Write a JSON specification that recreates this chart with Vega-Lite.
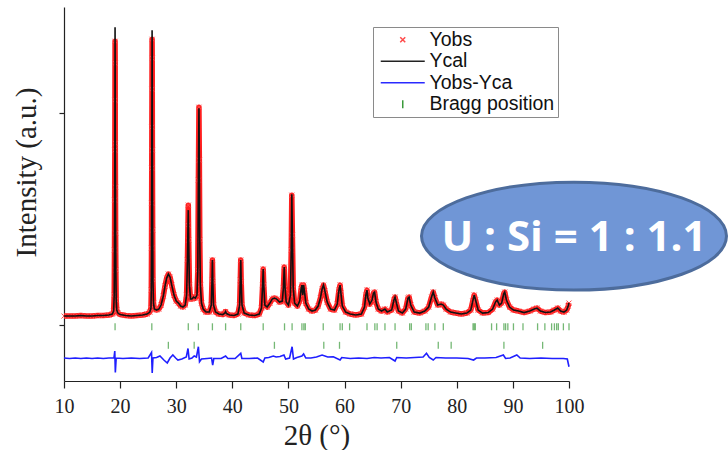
{
  "$schema": "https://vega.github.io/schema/vega-lite/v6.json",
  "width": 505,
  "height": 374,
  "autosize": {"type": "none"},
  "padding": {"left": 64, "top": 7, "right": 159, "bottom": 69},
  "background": "white",
  "config": {
    "view": {"stroke": null},
    "axis": {"grid": false, "domainColor": "#222", "tickColor": "#222", "domainWidth": 1.2, "tickWidth": 1.2},
    "legend": {
      "orient": "none", "legendX": 309, "legendY": 20,
      "strokeColor": "#8a8a8a", "strokeWidth": 1, "fillColor": "white", "padding": 3,
      "labelFont": "Liberation Sans", "labelFontSize": 19.5, "labelColor": "#111",
      "symbolSize": 100, "symbolStrokeWidth": 1.5, "symbolOffset": 17, "labelOffset": 17, "rowPadding": 0.5
    }
  },
  "datasets": {
    "pattern": [
      {"t":10.0,"cal":450,"obs":450},{"t":11.0,"cal":450,"obs":450},{"t":12.0,"cal":450,"obs":450},{"t":13.0,"cal":475,"obs":475},
      {"t":14.0,"cal":450,"obs":450},{"t":15.0,"cal":450,"obs":450},{"t":16.0,"cal":475,"obs":475},{"t":17.0,"cal":475,"obs":475},
      {"t":18.0,"cal":500,"obs":500},{"t":18.6,"cal":550,"obs":550},{"t":18.85,"cal":700,"obs":700},{"t":18.95,"cal":1500,"obs":1500},
      {"t":19.0,"cal":3750,"obs":3750},{"t":19.03,"cal":6250,"obs":6250},{"t":19.06,"cal":8750,"obs":8750},{"t":19.08,"cal":11250,"obs":11250},
      {"t":19.1,"cal":14900,"obs":14200},{"t":19.12,"cal":13100,"obs":13100},{"t":19.14,"cal":9100,"obs":9100},{"t":19.17,"cal":6900,"obs":6900},
      {"t":19.2,"cal":4600,"obs":4600},{"t":19.24,"cal":2750,"obs":2750},{"t":19.3,"cal":1250,"obs":1250},{"t":19.4,"cal":750,"obs":750},
      {"t":19.6,"cal":600,"obs":600},{"t":20.0,"cal":525,"obs":525},{"t":21.0,"cal":475,"obs":475},{"t":22.0,"cal":450,"obs":450},
      {"t":23.0,"cal":475,"obs":475},{"t":24.0,"cal":500,"obs":500},{"t":24.8,"cal":550,"obs":550},{"t":25.3,"cal":650,"obs":650},
      {"t":25.5,"cal":850,"obs":850},{"t":25.56,"cal":1750,"obs":1750},{"t":25.6,"cal":3850,"obs":3850},{"t":25.62,"cal":6100,"obs":6100},
      {"t":25.64,"cal":7850,"obs":7850},{"t":25.66,"cal":9900,"obs":9900},{"t":25.68,"cal":11800,"obs":11800},{"t":25.7,"cal":14750,"obs":14300},
      {"t":25.72,"cal":13350,"obs":13350},{"t":25.75,"cal":8750,"obs":8750},{"t":25.8,"cal":4750,"obs":4750},{"t":25.85,"cal":2250,"obs":2250},
      {"t":25.95,"cal":1100,"obs":1100},{"t":26.1,"cal":800,"obs":800},{"t":26.5,"cal":750,"obs":750},{"t":26.9,"cal":800,"obs":800},
      {"t":27.3,"cal":1000,"obs":1000},{"t":27.7,"cal":1450,"obs":1450},{"t":28.0,"cal":1950,"obs":1950},{"t":28.3,"cal":2350,"obs":2350},
      {"t":28.6,"cal":2550,"obs":2550},{"t":28.9,"cal":2400,"obs":2400},{"t":29.2,"cal":2000,"obs":2000},{"t":29.6,"cal":1500,"obs":1500},
      {"t":30.0,"cal":1200,"obs":1200},{"t":30.4,"cal":1100,"obs":1100},{"t":30.8,"cal":950,"obs":950},{"t":31.2,"cal":900,"obs":900},
      {"t":31.6,"cal":1000,"obs":1000},{"t":31.85,"cal":1500,"obs":1500},{"t":32.0,"cal":3250,"obs":3250},{"t":32.1,"cal":5000,"obs":5000},
      {"t":32.15,"cal":5750,"obs":6000},{"t":32.22,"cal":4250,"obs":4250},{"t":32.35,"cal":2000,"obs":2000},{"t":32.55,"cal":1300,"obs":1300},
      {"t":32.8,"cal":1300,"obs":1300},{"t":33.1,"cal":1400,"obs":1400},{"t":33.4,"cal":1350,"obs":1350},{"t":33.7,"cal":1500,"obs":1500},
      {"t":33.85,"cal":2750,"obs":2750},{"t":33.95,"cal":7250,"obs":7250},{"t":34.05,"cal":10850,"obs":10900},{"t":34.12,"cal":8250,"obs":8250},
      {"t":34.2,"cal":4250,"obs":4250},{"t":34.3,"cal":2000,"obs":2000},{"t":34.5,"cal":1100,"obs":1100},{"t":34.8,"cal":800,"obs":800},
      {"t":35.3,"cal":650,"obs":650},{"t":35.9,"cal":650,"obs":650},{"t":36.25,"cal":1000,"obs":1000},{"t":36.38,"cal":2250,"obs":2250},
      {"t":36.45,"cal":3250,"obs":3250},{"t":36.52,"cal":2150,"obs":2150},{"t":36.65,"cal":1000,"obs":1000},{"t":37.0,"cal":650,"obs":650},
      {"t":37.6,"cal":550,"obs":550},{"t":38.3,"cal":525,"obs":525},{"t":38.65,"cal":600,"obs":600},{"t":38.8,"cal":675,"obs":675},
      {"t":38.95,"cal":575,"obs":575},{"t":39.5,"cal":500,"obs":500},{"t":40.3,"cal":475,"obs":475},{"t":41.0,"cal":550,"obs":550},
      {"t":41.3,"cal":1000,"obs":1000},{"t":41.42,"cal":2250,"obs":2250},{"t":41.5,"cal":3250,"obs":3250},{"t":41.58,"cal":2150,"obs":2150},
      {"t":41.72,"cal":1000,"obs":1000},{"t":42.1,"cal":600,"obs":600},{"t":43.0,"cal":500,"obs":500},{"t":44.0,"cal":475,"obs":475},
      {"t":44.8,"cal":550,"obs":550},{"t":45.2,"cal":850,"obs":850},{"t":45.4,"cal":2000,"obs":2000},{"t":45.5,"cal":2800,"obs":2800},
      {"t":45.6,"cal":2000,"obs":2000},{"t":45.8,"cal":1000,"obs":1000},{"t":46.2,"cal":900,"obs":900},{"t":46.7,"cal":1100,"obs":1100},
      {"t":47.1,"cal":1300,"obs":1300},{"t":47.5,"cal":1350,"obs":1350},{"t":47.9,"cal":1300,"obs":1300},{"t":48.4,"cal":1150,"obs":1150},
      {"t":48.9,"cal":1200,"obs":1200},{"t":49.1,"cal":1850,"obs":1850},{"t":49.25,"cal":2900,"obs":2900},{"t":49.4,"cal":1850,"obs":1850},
      {"t":49.6,"cal":1150,"obs":1150},{"t":50.0,"cal":1000,"obs":1000},{"t":50.35,"cal":1500,"obs":1500},{"t":50.5,"cal":3750,"obs":3750},
      {"t":50.6,"cal":6550,"obs":6500},{"t":50.7,"cal":4500,"obs":4500},{"t":50.85,"cal":1850,"obs":1850},{"t":51.1,"cal":1100,"obs":1100},
      {"t":51.6,"cal":950,"obs":950},{"t":52.0,"cal":1200,"obs":1200},{"t":52.25,"cal":1800,"obs":1800},{"t":52.4,"cal":2000,"obs":2000},
      {"t":52.55,"cal":1500,"obs":1500},{"t":52.7,"cal":2000,"obs":2000},{"t":52.85,"cal":1700,"obs":1700},{"t":53.1,"cal":1100,"obs":1100},
      {"t":53.6,"cal":800,"obs":800},{"t":54.2,"cal":700,"obs":700},{"t":54.8,"cal":750,"obs":750},{"t":55.3,"cal":950,"obs":950},
      {"t":55.7,"cal":1350,"obs":1350},{"t":56.0,"cal":1800,"obs":1800},{"t":56.25,"cal":2000,"obs":2000},{"t":56.5,"cal":1700,"obs":1700},
      {"t":56.9,"cal":1150,"obs":1150},{"t":57.5,"cal":800,"obs":800},{"t":58.2,"cal":750,"obs":750},{"t":58.7,"cal":1050,"obs":1050},
      {"t":59.0,"cal":1750,"obs":1750},{"t":59.2,"cal":2000,"obs":2000},{"t":59.35,"cal":1600,"obs":1600},{"t":59.6,"cal":950,"obs":950},
      {"t":60.2,"cal":650,"obs":650},{"t":61.0,"cal":550,"obs":550},{"t":62.0,"cal":500,"obs":500},{"t":63.0,"cal":550,"obs":550},
      {"t":63.55,"cal":900,"obs":900},{"t":63.8,"cal":1500,"obs":1500},{"t":64.0,"cal":1750,"obs":1750},{"t":64.15,"cal":1350,"obs":1350},
      {"t":64.5,"cal":1050,"obs":1050},{"t":64.9,"cal":1250,"obs":1250},{"t":65.15,"cal":1600,"obs":1600},{"t":65.35,"cal":1650,"obs":1650},
      {"t":65.6,"cal":1150,"obs":1150},{"t":66.0,"cal":800,"obs":800},{"t":66.6,"cal":700,"obs":700},{"t":67.2,"cal":800,"obs":800},
      {"t":67.6,"cal":650,"obs":650},{"t":68.4,"cal":750,"obs":750},{"t":68.8,"cal":1250,"obs":1250},{"t":69.0,"cal":1400,"obs":1400},
      {"t":69.2,"cal":1150,"obs":1150},{"t":69.6,"cal":700,"obs":700},{"t":70.3,"cal":600,"obs":600},{"t":70.9,"cal":800,"obs":800},
      {"t":71.3,"cal":1350,"obs":1350},{"t":71.5,"cal":1400,"obs":1400},{"t":71.8,"cal":1000,"obs":1000},{"t":72.4,"cal":650,"obs":650},
      {"t":73.4,"cal":600,"obs":600},{"t":74.3,"cal":700,"obs":700},{"t":75.0,"cal":900,"obs":900},{"t":75.5,"cal":1400,"obs":1400},
      {"t":75.8,"cal":1650,"obs":1650},{"t":76.1,"cal":1350,"obs":1350},{"t":76.6,"cal":1000,"obs":1000},{"t":77.2,"cal":1050,"obs":1050},
      {"t":77.6,"cal":1000,"obs":1000},{"t":78.1,"cal":800,"obs":800},{"t":78.9,"cal":650,"obs":650},{"t":79.8,"cal":600,"obs":600},
      {"t":80.8,"cal":550,"obs":550},{"t":81.8,"cal":600,"obs":600},{"t":82.5,"cal":750,"obs":750},{"t":82.85,"cal":1200,"obs":1200},
      {"t":83.1,"cal":1500,"obs":1500},{"t":83.35,"cal":1250,"obs":1250},{"t":83.8,"cal":750,"obs":750},{"t":84.6,"cal":600,"obs":600},
      {"t":85.6,"cal":625,"obs":625},{"t":86.4,"cal":800,"obs":800},{"t":86.9,"cal":1150,"obs":1150},{"t":87.2,"cal":1250,"obs":1250},
      {"t":87.6,"cal":1000,"obs":1000},{"t":88.0,"cal":1100,"obs":1100},{"t":88.35,"cal":1550,"obs":1550},{"t":88.55,"cal":1650,"obs":1650},
      {"t":88.85,"cal":1250,"obs":1250},{"t":89.4,"cal":900,"obs":900},{"t":90.1,"cal":750,"obs":750},{"t":91.0,"cal":700,"obs":700},
      {"t":92.0,"cal":625,"obs":625},{"t":93.0,"cal":700,"obs":700},{"t":93.8,"cal":800,"obs":800},{"t":94.3,"cal":850,"obs":850},
      {"t":94.9,"cal":700,"obs":700},{"t":95.8,"cal":625,"obs":625},{"t":96.7,"cal":650,"obs":650},{"t":97.4,"cal":750,"obs":750},
      {"t":98.0,"cal":850,"obs":850},{"t":98.5,"cal":700,"obs":700},{"t":99.1,"cal":650,"obs":650},{"t":99.6,"cal":750,"obs":750},
      {"t":99.85,"cal":950,"obs":950},{"t":100.0,"cal":1100,"obs":1100}
    ],
    "difference": [
      {"t":10,"d":-1650},{"t":11,"d":-1675},{"t":12,"d":-1650},{"t":13,"d":-1675},{"t":14,"d":-1650},{"t":15,"d":-1675},
      {"t":16,"d":-1650},{"t":17,"d":-1675},{"t":18,"d":-1650},{"t":18.9,"d":-1650},{"t":19.05,"d":-1300},{"t":19.15,"d":-2375},
      {"t":19.3,"d":-1650},{"t":20.5,"d":-1675},{"t":22,"d":-1650},{"t":23.5,"d":-1675},{"t":25,"d":-1650},{"t":25.6,"d":-1375},
      {"t":25.72,"d":-2400},{"t":25.85,"d":-1650},{"t":26.5,"d":-1625},{"t":27.1,"d":-1550},{"t":27.8,"d":-1750},{"t":28.4,"d":-1900},
      {"t":28.9,"d":-1650},{"t":29.4,"d":-1500},{"t":29.9,"d":-1650},{"t":30.3,"d":-1750},{"t":31.0,"d":-1700},{"t":31.8,"d":-1600},
      {"t":32.1,"d":-1175},{"t":32.3,"d":-1700},{"t":32.8,"d":-1650},{"t":33.2,"d":-1550},{"t":33.6,"d":-1600},{"t":33.95,"d":-1085},
      {"t":34.15,"d":-1835},{"t":34.5,"d":-1700},{"t":35.5,"d":-1675},{"t":36.3,"d":-1650},{"t":36.5,"d":-2000},{"t":36.7,"d":-1675},
      {"t":38.0,"d":-1675},{"t":38.8,"d":-1550},{"t":39.2,"d":-1675},{"t":40.5,"d":-1675},{"t":41.5,"d":-1415},{"t":41.7,"d":-1675},
      {"t":43.0,"d":-1675},{"t":44.5,"d":-1650},{"t":45.5,"d":-1850},{"t":45.8,"d":-1650},{"t":46.5,"d":-1625},{"t":47.3,"d":-1550},
      {"t":47.8,"d":-1600},{"t":48.5,"d":-1575},{"t":49.2,"d":-1500},{"t":49.5,"d":-1700},{"t":50.2,"d":-1650},{"t":50.65,"d":-1085},
      {"t":50.9,"d":-1700},{"t":51.5,"d":-1625},{"t":52.4,"d":-1550},{"t":52.7,"d":-1450},{"t":53.1,"d":-1650},{"t":54.0,"d":-1650},
      {"t":55.0,"d":-1600},{"t":56.0,"d":-1500},{"t":57.0,"d":-1600},{"t":58.0,"d":-1585},{"t":59.2,"d":-1750},{"t":59.5,"d":-1625},
      {"t":61.0,"d":-1675},{"t":62.5,"d":-1650},{"t":64.0,"d":-1675},{"t":65.3,"d":-1625},{"t":66.5,"d":-1650},{"t":68.0,"d":-1625},
      {"t":69.0,"d":-1800},{"t":69.3,"d":-1625},{"t":71.0,"d":-1650},{"t":72.5,"d":-1625},{"t":74.0,"d":-1600},{"t":74.6,"d":-1415},
      {"t":75.1,"d":-1625},{"t":75.8,"d":-1750},{"t":76.3,"d":-1625},{"t":78.0,"d":-1650},{"t":80.0,"d":-1650},{"t":82.0,"d":-1675},
      {"t":83.0,"d":-1750},{"t":83.5,"d":-1650},{"t":85.0,"d":-1650},{"t":87.0,"d":-1625},{"t":88.3,"d":-1500},{"t":88.7,"d":-1675},
      {"t":89.5,"d":-1650},{"t":90.7,"d":-1500},{"t":91.3,"d":-1650},{"t":93.0,"d":-1675},{"t":95.0,"d":-1650},{"t":97.0,"d":-1675},
      {"t":99.0,"d":-1675},{"t":99.7,"d":-1700},{"t":99.85,"d":-1900},{"t":100.0,"d":-2085}
    ],
    "bragg": [
      {"t":19.1,"phase":"1"},{"t":25.65,"phase":"1"},{"t":32.15,"phase":"1"},{"t":33.95,"phase":"1"},{"t":36.45,"phase":"1"},
      {"t":38.8,"phase":"1"},{"t":41.5,"phase":"1"},{"t":45.5,"phase":"1"},{"t":49.3,"phase":"1"},{"t":50.65,"phase":"1"},
      {"t":52.4,"phase":"1"},{"t":52.75,"phase":"1"},{"t":53.0,"phase":"1"},{"t":56.2,"phase":"1"},{"t":59.2,"phase":"1"},
      {"t":59.6,"phase":"1"},{"t":60.9,"phase":"1"},{"t":64.0,"phase":"1"},{"t":65.4,"phase":"1"},{"t":65.8,"phase":"1"},
      {"t":67.2,"phase":"1"},{"t":69.0,"phase":"1"},{"t":71.6,"phase":"1"},{"t":71.9,"phase":"1"},{"t":74.5,"phase":"1"},
      {"t":74.9,"phase":"1"},{"t":76.1,"phase":"1"},{"t":77.6,"phase":"1"},{"t":82.9,"phase":"1"},{"t":83.1,"phase":"1"},
      {"t":83.3,"phase":"1"},{"t":86.2,"phase":"1"},{"t":87.1,"phase":"1"},{"t":88.4,"phase":"1"},{"t":88.7,"phase":"1"},
      {"t":89.1,"phase":"1"},{"t":90.1,"phase":"1"},{"t":91.8,"phase":"1"},{"t":94.4,"phase":"1"},{"t":95.7,"phase":"1"},
      {"t":96.9,"phase":"1"},{"t":97.4,"phase":"1"},{"t":97.8,"phase":"1"},{"t":98.1,"phase":"1"},{"t":99.0,"phase":"1"},
      {"t":100.0,"phase":"1"},
      {"t":28.6,"phase":"2"},{"t":33.2,"phase":"2"},{"t":47.5,"phase":"2"},{"t":56.3,"phase":"2"},{"t":59.1,"phase":"2"},
      {"t":69.3,"phase":"2"},{"t":76.7,"phase":"2"},{"t":79.0,"phase":"2"},{"t":88.4,"phase":"2"},{"t":95.3,"phase":"2"}
    ],
    "note": [
      {"t":100.89,"I":4450,"label":"U : Si = 1 : 1.1"}
    ]
  },
  "layer": [
    {
      "layer": [
        {
          "data": {"name": "pattern"},
          "mark": {"type": "line", "color": "#ff1f1f", "strokeWidth": 5.5, "strokeJoin": "round", "opacity": 1},
          "encoding": {
            "x": {
              "field": "t", "type": "quantitative",
              "scale": {"domain": [10, 100], "nice": false, "zero": false},
              "axis": {
                "title": "2θ (°)",
                "values": [10,15,20,25,30,35,40,45,50,55,60,65,70,75,80,85,90,95,100],
                "labelExpr": "datum.value % 10 === 0 ? datum.label : ''",
                "tickSize": {"condition": {"test": "datum.value % 10 === 0", "value": 7}, "value": 4},
                "labelFont": "Liberation Serif", "labelFontSize": 20, "labelColor": "#222",
                "labelPadding": 8, "labelFlush": false, "labelOverlap": false,
                "titleFont": "Liberation Serif", "titleFontSize": 29, "titleFontWeight": "normal", "titleColor": "#222",
                "titleY": 63, "titleBaseline": "alphabetic"
              }
            },
            "y": {
              "field": "obs", "type": "quantitative",
              "scale": {"domain": [-2800, 15915], "nice": false, "zero": false},
              "axis": {
                "title": "Intensity (a.u.)",
                "values": [0, 10600],
                "labels": false,
                "tickSize": 5,
                "titleFont": "Liberation Serif", "titleFontSize": 29, "titleFontWeight": "normal", "titleColor": "#222",
                "titleAngle": 270, "titleX": -29, "titleY": 165, "titleBaseline": "alphabetic", "titleAlign": "center"
              }
            }
          }
        },
        {
          "data": {"name": "pattern"},
          "mark": {"type": "point", "filled": false, "strokeWidth": 1, "size": 100, "opacity": 1},
          "encoding": {
            "x": {"field": "t", "type": "quantitative"},
            "y": {"field": "obs", "type": "quantitative"},
            "color": {
              "datum": "Yobs",
              "scale": {"domain": ["Yobs", "Ycal", "Yobs-Yca", "Bragg position"], "range": ["#ff4a4a", "#222222", "#2a2aff", "#3a9a3a"]},
              "legend": {"title": null}
            },
            "shape": {
              "datum": "Yobs",
              "scale": {
                "domain": ["Yobs", "Ycal", "Yobs-Yca", "Bragg position"],
                "range": [
                  "M -0.5 -0.5 L 0.5 0.5 M 0.5 -0.5 L -0.5 0.5",
                  "M -4.4 0 L 4.4 0",
                  "M -4.4 0 L 4.4 0",
                  "M 0 -0.8 L 0 0.8"
                ]
              },
              "legend": {"title": null}
            }
          }
        },
        {
          "data": {"name": "pattern"},
          "mark": {"type": "line", "color": "#111111", "strokeWidth": 1.6},
          "encoding": {
            "x": {"field": "t", "type": "quantitative"},
            "y": {"field": "cal", "type": "quantitative"}
          }
        },
        {
          "data": {"name": "difference"},
          "mark": {"type": "line", "color": "#1f1fff", "strokeWidth": 1.6},
          "encoding": {
            "x": {"field": "t", "type": "quantitative"},
            "y": {"field": "d", "type": "quantitative"}
          }
        },
        {
          "data": {"name": "note"},
          "mark": {
            "type": "point", "filled": true, "size": 93025, "opacity": 1,
            "shape": "M -1 0 C -1 -0.1955 -0.5523 -0.354 0 -0.354 C 0.5523 -0.354 1 -0.1955 1 0 C 1 0.1955 0.5523 0.354 0 0.354 C -0.5523 0.354 -1 0.1955 -1 0 Z",
            "fill": "#7096d6", "stroke": "#4d6c9c", "strokeWidth": 3
          },
          "encoding": {
            "x": {"field": "t", "type": "quantitative"},
            "y": {"field": "I", "type": "quantitative"}
          }
        },
        {
          "data": {"name": "note"},
          "mark": {
            "type": "text", "font": "Open Sans", "fontSize": 42, "fontWeight": "bold",
            "color": "white", "align": "center", "baseline": "alphabetic", "dy": 15
          },
          "encoding": {
            "x": {"field": "t", "type": "quantitative"},
            "y": {"field": "I", "type": "quantitative"},
            "text": {"field": "label"}
          }
        }
      ]
    },
    {
      "data": {"name": "bragg"},
      "mark": {"type": "tick", "color": "#3a9a3a", "size": 7, "thickness": 1.3, "orient": "vertical"},
      "encoding": {
        "x": {"field": "t", "type": "quantitative"},
        "y": {
          "field": "phase", "type": "ordinal",
          "scale": {"type": "point", "domain": ["1", "2"], "range": [319.8, 338.3], "padding": 0},
          "axis": null
        }
      }
    }
  ],
  "resolve": {"scale": {"y": "independent"}}
}
